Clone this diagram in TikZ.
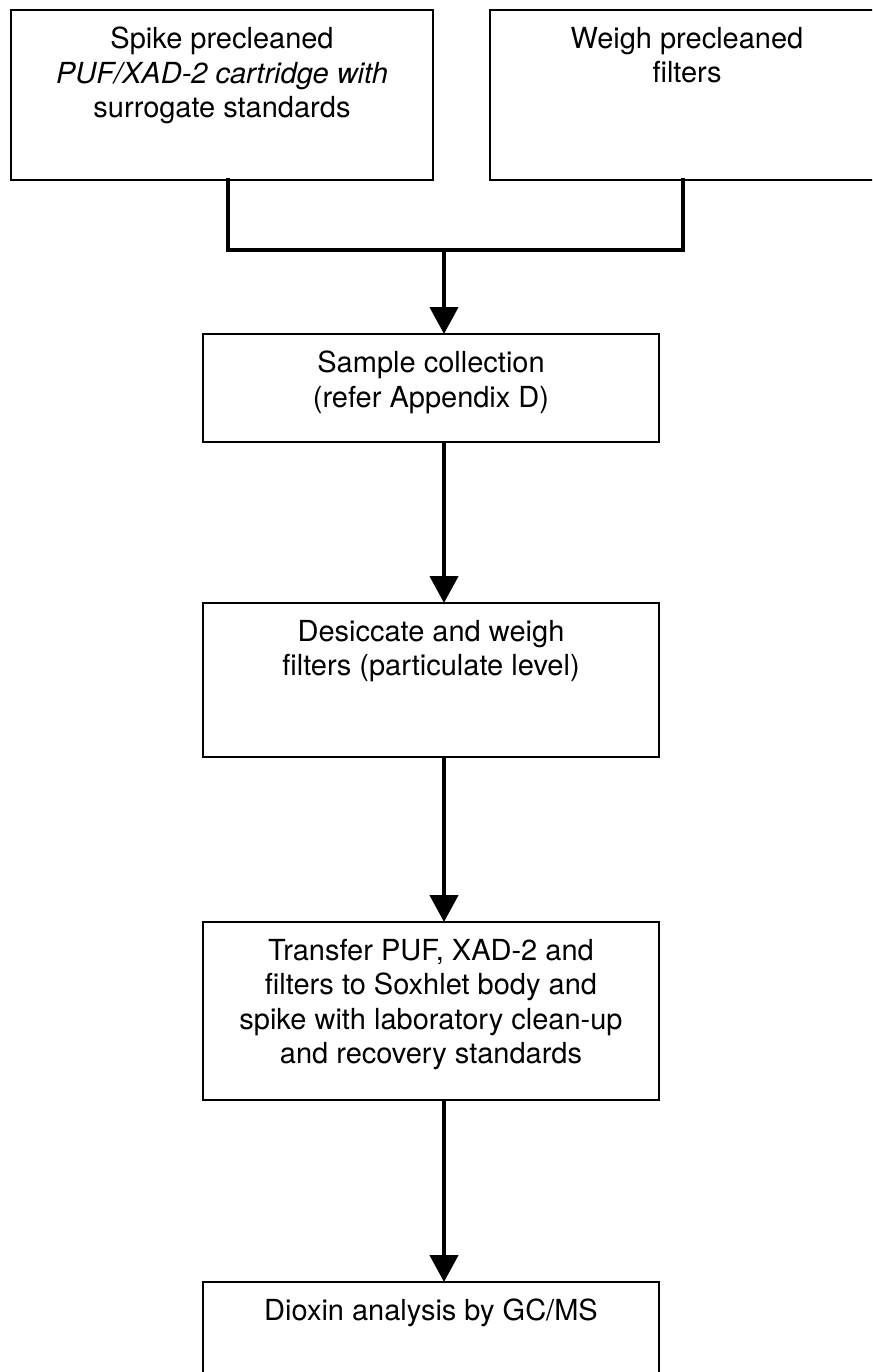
\documentclass[tikz,border=0pt]{standalone}
\usepackage{fontspec}
\setmainfont{TeX Gyre Heros}
\usetikzlibrary{arrows.meta,positioning}
\tikzset{
  stepbox/.style={draw, line width=1.3pt, inner sep=0pt, outer sep=0pt, anchor=north west},
  steptext/.style={align=center, inner sep=0pt, font=\fontsize{29}{34.5}\selectfont},
  joinline/.style={line width=4.5pt, line join=miter, line cap=rect},
  flowarrow/.style={line width=4.5pt, -{Triangle[length=27pt,width=28pt]}}
}
\begin{document}
\begin{tikzpicture}[x=1pt, y=-1pt]
    \useasboundingbox (0,0) rectangle (872,1372);
    \clip (0,0) rectangle (872,1372);
    \node[stepbox, minimum width=422pt, minimum height=170pt] (spike) at (11,10) {};
    \node[stepbox, minimum width=394pt, minimum height=170pt] (weigh) at (490,10) {};
    \node[stepbox, minimum width=456pt, minimum height=108pt] (sample) at (203,334) {};
    \node[stepbox, minimum width=456pt, minimum height=154pt] (desic) at (203,603) {};
    \node[stepbox, minimum width=456pt, minimum height=178pt] (transfer) at (203,922) {};
    \node[stepbox, minimum width=456pt, minimum height=150pt] (dioxin) at (203,1282) {};
    \node[steptext, below=17pt of spike.north] (spiketxt) {Spike precleaned\\\textit{PUF/XAD-2 cartridge with}\\surrogate standards};
    \node[steptext, below=17pt of weigh.north] (weightxt) {Weigh precleaned\\filters};
    \node[steptext, below=17pt of sample.north] (sampletxt) {Sample collection\\(refer Appendix D)};
    \node[steptext, below=17pt of desic.north] (desictxt) {Desiccate and weigh\\filters (particulate level)};
    \node[steptext, below=17pt of transfer.north] (transfertxt) {Transfer PUF, XAD-2 and\\filters to Soxhlet body and\\spike with laboratory clean-up\\and recovery standards};
    \node[steptext, below=17pt of dioxin.north] (dioxintxt) {Dioxin analysis by GC/MS};
    \coordinate (jl) at (228,250);
    \coordinate (jr) at (683,250);
    \coordinate (stem) at (444,250);
    \draw[joinline] (spike.south -| jl) -- (jl) -- (jr) -- (weigh.south -| jr);
    \draw[flowarrow] (stem) -- (sample.north -| stem);
    \foreach \a/\b in {sample/desic, desic/transfer, transfer/dioxin}{
        \draw[flowarrow] (\a.south -| stem) -- (\b.north -| stem);
    }
\end{tikzpicture}
\end{document}
